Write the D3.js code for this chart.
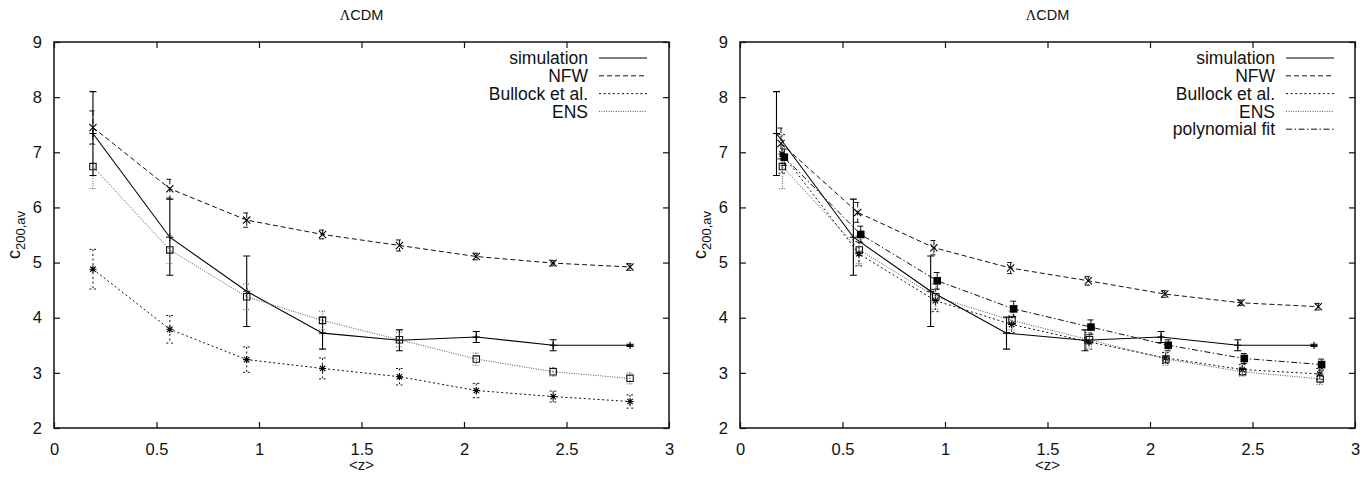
<!DOCTYPE html>
<html>
<head>
<meta charset="utf-8">
<script src="https://cdn.jsdelivr.net/npm/d3@7"></script>
<style>
  body { margin: 0; background: #fff; }
  text { font-family: "Liberation Sans", Arial, Helvetica, sans-serif; fill: #111; }
</style>
</head>
<body>
<svg id="chart" width="1370" height="479"></svg>
<script>
// ---- data: mean concentration c_200,av per redshift bin ----
const zBins = [0.19, 0.565, 0.94, 1.31, 1.685, 2.06, 2.435, 2.81];

const simVal = [7.34, 5.46, 4.48, 3.72, 3.59, 3.65, 3.50, 3.50];
const simErr = [0.76, 0.69, 0.64, 0.29, 0.19, 0.10, 0.10, 0.02];

// left panel model predictions
const nfwL    = [7.45, 6.34, 5.77, 5.51, 5.31, 5.11, 4.99, 4.92];
const nfwLErr = [0.30, 0.17, 0.13, 0.08, 0.10, 0.06, 0.05, 0.06];
const bulL    = [4.88, 3.79, 3.24, 3.08, 2.93, 2.68, 2.57, 2.48];
const bulLErr = [0.36, 0.25, 0.23, 0.19, 0.15, 0.13, 0.10, 0.12];
const ensL    = [6.74, 5.23, 4.38, 3.95, 3.60, 3.25, 3.02, 2.90];
const ensLErr = [0.40, 0.25, 0.23, 0.17, 0.13, 0.11, 0.08, 0.10];

// right panel: points slightly shifted in z so the bars stay readable
const zSimR = [0.178, 0.553, 0.93, 1.30, 1.683, 2.054, 2.428, 2.80];
const zNfwR = [0.200, 0.574, 0.946, 1.32, 1.699, 2.072, 2.444, 2.821];
const zBulR = [0.205, 0.580, 0.953, 1.325, 1.703, 2.076, 2.450, 2.828];
const zEnsR = [0.207, 0.582, 0.955, 1.327, 1.705, 2.078, 2.452, 2.830];
const zFitR = [0.216, 0.589, 0.962, 1.335, 1.712, 2.089, 2.460, 2.837];

const nfwR    = [7.16, 5.91, 5.27, 4.90, 4.67, 4.43, 4.27, 4.20];
const nfwRErr = [0.28, 0.18, 0.13, 0.10, 0.08, 0.06, 0.05, 0.06];
const bulR    = [6.97, 5.16, 4.31, 3.88, 3.56, 3.27, 3.06, 2.98];
const bulRErr = [0.35, 0.22, 0.20, 0.15, 0.13, 0.10, 0.09, 0.10];
const ensR    = [6.74, 5.23, 4.38, 3.95, 3.60, 3.25, 3.02, 2.89];
const ensRErr = [0.40, 0.25, 0.23, 0.17, 0.13, 0.11, 0.08, 0.10];
const fitR    = [6.91, 5.51, 4.67, 4.16, 3.83, 3.50, 3.26, 3.15];
const fitRErr = [0.15, 0.15, 0.15, 0.14, 0.13, 0.10, 0.09, 0.10];

const xTicks = [0, 0.5, 1, 1.5, 2, 2.5, 3];
const xTickLabels = ["0", "0.5", "1", "1.5", "2", "2.5", "3"];
const yTicks = [2, 3, 4, 5, 6, 7, 8, 9];

const titleText = "CDM";
const xLabelText = "<z>";

// ---- styles ----
const styles = {
  simulation:      { dash: null,        color: "#000", width: 1.1, marker: "plus" },
  NFW:             { dash: "5,3",       color: "#111", width: 1.0, marker: "cross" },
  "Bullock et al.":{ dash: "2,2.6",     color: "#111", width: 1.0, marker: "star" },
  ENS:             { dash: "1,1.4",     color: "#555", width: 1.0, marker: "box" },
  "polynomial fit":{ dash: "6,2.5,1.5,2.5", color: "#111", width: 1.0, marker: "filled" }
};

const svg = d3.select("#chart");

function markerPath(kind, s) {
  switch (kind) {
    case "plus":  return `M${-s},0H${s}M0,${-s}V${s}`;
    case "cross": return `M${-s},${-s}L${s},${s}M${-s},${s}L${s},${-s}`;
    case "star":  return `M${-s},0H${s}M0,${-s}V${s}M${-s*0.75},${-s*0.75}L${s*0.75},${s*0.75}M${-s*0.75},${s*0.75}L${s*0.75},${-s*0.75}`;
    default:      return `M${-s},${-s}H${s}V${s}H${-s}Z`;
  }
}

function drawPanel(x0, series, legendRight) {
  const left = x0, right = x0 + 615, top = 42, bottom = 428;
  const x = d3.scaleLinear().domain([0, 3]).range([left, right]);
  const y = d3.scaleLinear().domain([2, 9]).range([bottom, top]);
  const g = svg.append("g");

  // axes with inward ticks on all four sides
  const tickLen = 6;
  g.append("g").attr("transform", `translate(0,${bottom})`)
    .call(d3.axisBottom(x).tickValues(xTicks).tickSizeInner(-tickLen).tickSizeOuter(0)
      .tickPadding(15).tickFormat((d, i) => xTickLabels[i]))
    .call(a => a.select(".domain").remove());
  g.append("g").attr("transform", `translate(0,${top})`)
    .call(d3.axisTop(x).tickValues(xTicks).tickSizeInner(-tickLen).tickSizeOuter(0).tickFormat(""))
    .call(a => a.select(".domain").remove());
  g.append("g").attr("transform", `translate(${left},0)`)
    .call(d3.axisLeft(y).tickValues(yTicks).tickSizeInner(-tickLen).tickSizeOuter(0)
      .tickPadding(12).tickFormat(d3.format("d")))
    .call(a => a.select(".domain").remove());
  g.append("g").attr("transform", `translate(${right},0)`)
    .call(d3.axisRight(y).tickValues(yTicks).tickSizeInner(-tickLen).tickSizeOuter(0).tickFormat(""))
    .call(a => a.select(".domain").remove());
  g.selectAll(".tick line").attr("stroke", "#111").attr("stroke-width", 1.2);
  g.selectAll(".tick text").attr("font-size", 16.5).attr("fill", "#111")
    .attr("font-family", '"Liberation Sans", Arial, sans-serif');

  g.append("rect").attr("x", left).attr("y", top).attr("width", right - left).attr("height", bottom - top)
    .attr("fill", "none").attr("stroke", "#111").attr("stroke-width", 1.5);

  // series: connecting lines, error bars, markers
  series.forEach(sr => {
    const st = styles[sr.name];
    const pts = sr.z.map((z, i) => ({ z, v: sr.val[i], e: sr.err[i] }));
    const sg = g.append("g");
    sg.append("path").datum(pts)
      .attr("d", d3.line().x(d => x(d.z)).y(d => y(d.v)))
      .attr("fill", "none").attr("stroke", st.color).attr("stroke-width", st.width)
      .attr("stroke-dasharray", st.dash);
    const bars = sg.selectAll(".eb").data(pts).join("g")
      .attr("stroke", st.color).attr("stroke-width", st.width).attr("stroke-dasharray", st.dash)
      .attr("fill", "none");
    bars.append("path").attr("d", d => {
      const xx = x(d.z), y1 = y(d.v + d.e), y2 = y(d.v - d.e), c = 3.5;
      return `M${xx},${y1}V${y2}M${xx - c},${y1}H${xx + c}M${xx - c},${y2}H${xx + c}`;
    });
    const mk = sg.selectAll(".mk").data(pts).join("path")
      .attr("transform", d => `translate(${x(d.z)},${y(d.v)})`);
    if (st.marker === "filled") {
      mk.attr("d", markerPath("box", 3.8)).attr("fill", "#000").attr("stroke", "none");
    } else if (st.marker === "box") {
      mk.attr("d", markerPath("box", 3.2)).attr("fill", "none").attr("stroke", "#111").attr("stroke-width", 1.1);
    } else {
      mk.attr("d", markerPath(st.marker, 3.6)).attr("fill", "none").attr("stroke", "#000").attr("stroke-width", 1.1);
    }
  });

  // legend
  const lg = g.append("g");
  series.forEach((sr, i) => {
    const st = styles[sr.name];
    const yy = 58 + i * 17.8;
    lg.append("text").attr("x", legendRight).attr("y", yy).attr("dy", "0.35em")
      .attr("text-anchor", "end").attr("font-size", 17.5).text(sr.name);
    lg.append("line").attr("x1", legendRight + 11).attr("x2", legendRight + 59)
      .attr("y1", yy).attr("y2", yy).attr("stroke", st.color).attr("stroke-width", st.width)
      .attr("stroke-dasharray", st.dash);
  });

  // title
  const cx = (left + right) / 2;
  const t = g.append("text").attr("x", cx).attr("y", 20).attr("text-anchor", "middle").attr("font-size", 14.5);
  t.append("tspan").attr("font-family", '"Liberation Serif", "DejaVu Serif", serif').text("Λ");
  t.append("tspan").text(titleText);

  // x label
  g.append("text").attr("x", cx).attr("y", 470).attr("text-anchor", "middle").attr("font-size", 15).text(xLabelText);

  // y label
  const yl = g.append("text").attr("transform", `translate(${left - 34},235) rotate(-90)`)
    .attr("text-anchor", "middle").attr("font-size", 18);
  yl.append("tspan").text("c");
  yl.append("tspan").attr("font-size", 13).attr("dy", 5).text("200,av");
}

drawPanel(54, [
  { name: "simulation",     z: zBins, val: simVal, err: simErr },
  { name: "NFW",            z: zBins, val: nfwL,   err: nfwLErr },
  { name: "Bullock et al.", z: zBins, val: bulL,   err: bulLErr },
  { name: "ENS",            z: zBins, val: ensL,   err: ensLErr }
], 588);

drawPanel(740, [
  { name: "simulation",     z: zSimR, val: simVal, err: simErr },
  { name: "NFW",            z: zNfwR, val: nfwR,   err: nfwRErr },
  { name: "Bullock et al.", z: zBulR, val: bulR,   err: bulRErr },
  { name: "ENS",            z: zEnsR, val: ensR,   err: ensRErr },
  { name: "polynomial fit", z: zFitR, val: fitR,   err: fitRErr }
], 1275);
</script>
</body>
</html>
